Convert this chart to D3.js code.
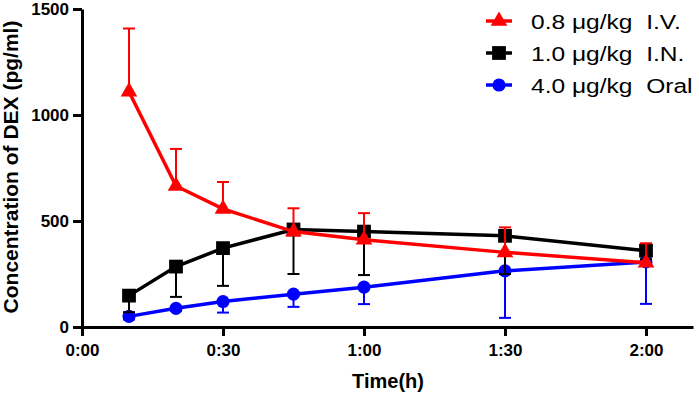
<!DOCTYPE html>
<html>
<head>
<meta charset="utf-8">
<script src="https://cdn.jsdelivr.net/npm/d3@7"></script>
<style>
  body { margin: 0; background: #fff; }
  svg { display: block; }
  text { font-family: "Liberation Sans", Arial, sans-serif; }
</style>
</head>
<body>
<svg id="chart" width="699" height="394"></svg>
<script>
// time points in minutes
var times = [10, 20, 30, 45, 60, 90, 120];

// mean values (pg/ml)
var ivMean   = [1110, 665, 557, 450, 412, 352, 303];
var inMean   = [148, 285, 372, 460, 450, 430, 360];
var oralMean = [50, 88, 120, 155, 188, 265, 307];

// one-sided error bars (SD)
var ivErr   = [298, 175, 127, 110, 125, 118, 92];
var inErr   = [78, 143, 178, 210, 205, 180, 40];
var oralErr = [15, 12, 52, 60, 80, 222, 198];

var xTicks = [0, 30, 60, 90, 120];
var yTicks = [0, 500, 1000, 1500];

var legendLabels = ['0.8 μg/kg  I.V.', '1.0 μg/kg  I.N.', '4.0 μg/kg  Oral'];

var series = [
  { name: legendLabels[2], mean: oralMean, err: oralErr, dir: -1, color: '#0000ff', shape: d3.symbolCircle, size: 135 },
  { name: legendLabels[1], mean: inMean, err: inErr, dir: -1, color: '#000000', shape: d3.symbolSquare, size: 190 },
  { name: legendLabels[0], mean: ivMean, err: ivErr, dir: 1, color: '#ff0000', shape: d3.symbolTriangle, size: 120 }
];

var svg = d3.select('#chart');

var x = d3.scaleLinear().domain([0, 130]).range([82, 693]);
var y = d3.scaleLinear().domain([0, 1500]).range([327, 9]);

function fmt(m) {
  var h = Math.floor(m / 60), mm = m % 60;
  return h + ':' + (mm < 10 ? '0' + mm : mm);
}

// axes
var xAxis = d3.axisBottom(x).tickValues(xTicks).tickFormat(fmt).tickSize(9).tickSizeOuter(0);
var yAxis = d3.axisLeft(y).tickValues(yTicks).tickFormat(d3.format('d')).tickSize(9).tickSizeOuter(0);

var gx = svg.append('g').attr('transform', 'translate(0,327)').call(xAxis);
var gy = svg.append('g').attr('transform', 'translate(82,0)').call(yAxis);

[gx, gy].forEach(function (g) {
  g.select('.domain').attr('stroke', '#000').attr('stroke-width', 3);
  g.selectAll('.tick line').attr('stroke', '#000').attr('stroke-width', 3);
  g.selectAll('.tick text')
    .attr('fill', '#000')
    .style('font-family', '"Liberation Sans", Arial, sans-serif')
    .style('font-weight', 'bold')
    .style('font-size', '17px');
});
gx.selectAll('.tick text').attr('y', 17).attr('dy', '0.71em');
gy.selectAll('.tick text').attr('x', -13);

svg.append('text')
  .attr('x', 388).attr('y', 388)
  .attr('text-anchor', 'middle')
  .style('font-weight', 'bold').style('font-size', '20px')
  .text('Time(h)');

svg.append('text')
  .attr('transform', 'translate(18,167) rotate(-90)')
  .attr('text-anchor', 'middle')
  .style('font-weight', 'bold').style('font-size', '21px')
  .text('Concentration of DEX (pg/ml)');

var line = d3.line()
  .x(function (d) { return x(d.t); })
  .y(function (d) { return y(d.v); });

series.forEach(function (s) {
  var pts = times.map(function (t, i) { return { t: t, v: s.mean[i], e: s.err[i] }; });
  var g = svg.append('g');

  // error bars
  g.selectAll('line.err').data(pts).enter().append('line')
    .attr('x1', function (d) { return x(d.t); })
    .attr('x2', function (d) { return x(d.t); })
    .attr('y1', function (d) { return y(d.v); })
    .attr('y2', function (d) { return y(d.v + s.dir * d.e); })
    .attr('stroke', s.color).attr('stroke-width', 2);
  g.selectAll('line.cap').data(pts).enter().append('line')
    .attr('x1', function (d) { return x(d.t) - 6; })
    .attr('x2', function (d) { return x(d.t) + 6; })
    .attr('y1', function (d) { return y(d.v + s.dir * d.e); })
    .attr('y2', function (d) { return y(d.v + s.dir * d.e); })
    .attr('stroke', s.color).attr('stroke-width', 2);

  g.append('path').datum(pts)
    .attr('d', line)
    .attr('fill', 'none')
    .attr('stroke', s.color).attr('stroke-width', 3.5);

  g.selectAll('path.pt').data(pts).enter().append('path')
    .attr('transform', function (d) { return 'translate(' + x(d.t) + ',' + y(d.v) + ')'; })
    .attr('d', d3.symbol().type(s.shape).size(s.size))
    .attr('fill', s.color);
});

// legend
var legend = svg.append('g');
var legendSeries = [series[2], series[1], series[0]];
legendSeries.forEach(function (s, i) {
  var ly = 21 + i * 32;
  legend.append('line')
    .attr('x1', 486).attr('x2', 512).attr('y1', ly).attr('y2', ly)
    .attr('stroke', s.color).attr('stroke-width', 3.5);
  legend.append('path')
    .attr('transform', 'translate(499,' + ly + ')')
    .attr('d', d3.symbol().type(s.shape).size(s.size))
    .attr('fill', s.color);
  legend.append('text')
    .attr('transform', 'translate(531,' + (ly + 7.5) + ') scale(1.17,1)')
    .style('font-size', '21px')
    .style('white-space', 'pre')
    .attr('fill', '#000')
    .text(s.name);
});
</script>
</body>
</html>
